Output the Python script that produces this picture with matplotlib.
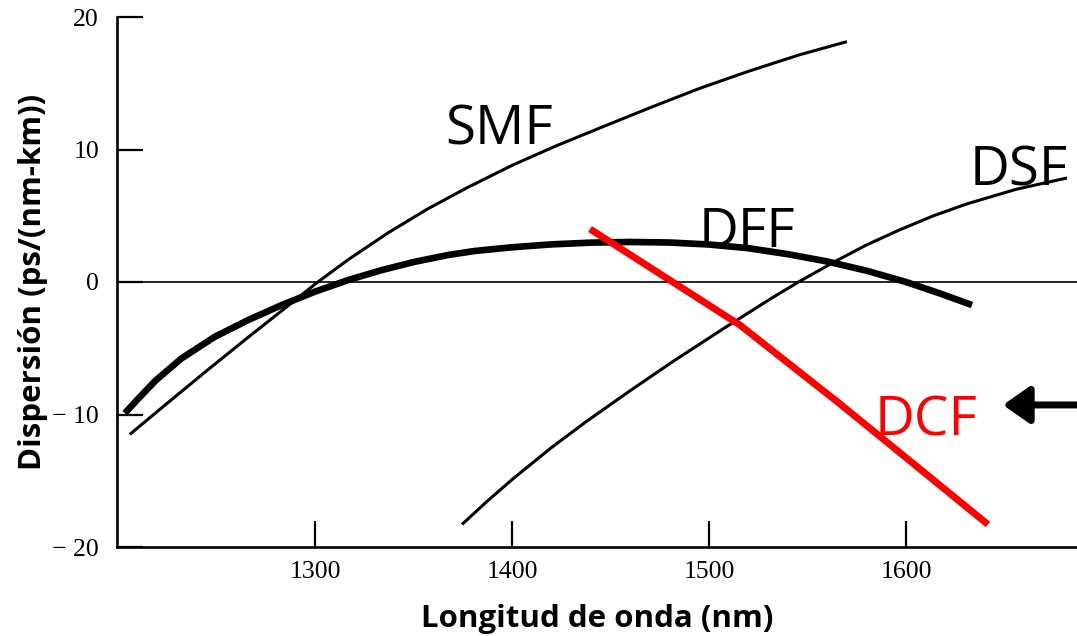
import matplotlib
matplotlib.use("Agg")
import matplotlib.pyplot as plt

# ---- data ----
smf_x = [1206, 1225, 1245, 1265, 1285, 1301, 1317, 1337, 1357, 1377, 1400, 1422,
         1445, 1470, 1495, 1520, 1546, 1570]
smf_y = [-11.5, -9.15, -6.7, -4.3, -1.95, -0.05, 1.7, 3.7, 5.5, 7.1, 8.8, 10.25,
         11.65, 13.15, 14.6, 15.9, 17.15, 18.14]

dff_x = [1203.5, 1210, 1219, 1232.3, 1249.2, 1266.1, 1283.1, 1300, 1316.9, 1333.9,
         1350.8, 1367.7, 1381, 1400, 1420, 1440, 1460, 1480, 1500, 1520, 1540,
         1560, 1580, 1600, 1617, 1633.5]
dff_y = [-9.9, -8.85, -7.45, -5.76, -4.13, -2.87, -1.74, -0.73, 0.15, 0.9,
         1.53, 2.04, 2.34, 2.62, 2.84, 2.97, 3.02, 2.98, 2.83, 2.55, 2.1,
         1.55, 0.85, 0.0, -0.85, -1.74]

dsf_x = [1374.6, 1387, 1400.5, 1420, 1438, 1460, 1481.7, 1507, 1532, 1546, 1564,
         1580, 1597, 1614, 1631, 1656, 1681.7]
dsf_y = [-18.3, -16.6, -14.85, -12.5, -10.5, -8.2, -6.0, -3.55, -1.2, 0.05, 1.55,
         2.8, 3.95, 5.0, 5.9, 7.0, 7.85]

dcf_x = [1439.6, 1515.7, 1566.5, 1641.6]
dcf_y = [4.0, -3.25, -9.2, -18.3]

x_ticks = [1300, 1400, 1500, 1600]
y_ticks = [20, 10, 0, -10, -20]
y_tick_labels = ["20", "10", "0", "\u2212 10", "\u2212 20"]

labels = ["SMF", "DFF", "DSF", "DCF"]

fig = plt.figure(figsize=(10.77, 6.36), dpi=100)
ax = fig.add_axes([117 / 1077, 1 - 547 / 636, 1 - 117 / 1077, (547 - 17) / 636])
ax.set_xlim(1199.5, 1686.8)
ax.set_ylim(-20, 20)

for s in ["top", "right"]:
    ax.spines[s].set_visible(False)
for s in ["left", "bottom"]:
    ax.spines[s].set_linewidth(1.9)

ax.axhline(0, color="black", lw=1.2)

ax.plot(smf_x, smf_y, color="black", lw=2.2, solid_capstyle="butt")
ax.plot(dff_x, dff_y, color="black", lw=4.8, solid_capstyle="butt")
ax.plot(dsf_x, dsf_y, color="black", lw=2.2, solid_capstyle="butt")
ax.plot(dcf_x, dcf_y, color="#ff0000", lw=5, solid_capstyle="butt")

ax.set_xticks(x_ticks)
ax.set_xticklabels([str(v) for v in x_ticks])
ax.set_yticks(y_ticks)
ax.set_yticklabels(y_tick_labels)
ax.tick_params(axis="both", direction="in", length=19, width=1.6,
               labelsize=18.5)
ax.tick_params(axis="y", pad=13)
ax.tick_params(axis="x", pad=10)
for t in ax.get_xticklabels() + ax.get_yticklabels():
    t.set_fontfamily("Liberation Serif")

ax.set_xlabel("Longitud de onda (nm)", fontsize=22.5, fontweight="bold",
              family="Open Sans")
ax.set_ylabel("Dispersión (ps/(nm-km))", fontsize=22.5, fontweight="bold",
              family="Open Sans")
ax.xaxis.set_label_coords(0.5, -0.108)
ax.yaxis.set_label_coords(-0.072, 0.5)

txt_kw = dict(fontsize=39.5, family="Open Sans", ha="left", va="baseline")
ax.text(1366, 10.34, labels[0], color="black", **txt_kw)
ax.text(1494.5, 2.64, labels[1], color="black", **txt_kw)
ax.text(1632.5, 7.32, labels[2], color="black", **txt_kw)
ax.text(1584.3, -11.55, labels[3], color="#ff0000", **txt_kw)

ax.annotate("", xy=(1649.2, -9.28), xytext=(1687.5, -9.28),
            arrowprops=dict(arrowstyle="-|>,head_length=0.4,head_width=0.28",
                            color="black", lw=5, mutation_scale=40,
                            shrinkA=0, shrinkB=0),
            annotation_clip=False)

fig.savefig("out.png", dpi=100)
